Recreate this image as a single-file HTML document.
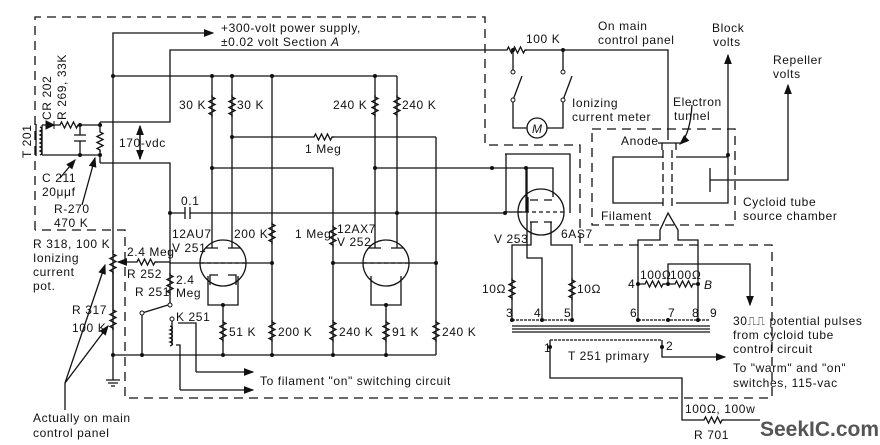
<!DOCTYPE html>
<html><head><style>
html,body{margin:0;padding:0;background:#fff;width:880px;height:445px;overflow:hidden}
svg{display:block}
text{font-family:"Liberation Sans",sans-serif;font-size:12px;letter-spacing:0.6px;fill:#111}
</style></head><body>
<svg width="880" height="445" viewBox="0 0 880 445" xmlns="http://www.w3.org/2000/svg">
<defs>
<path id="rv" d="M0,-10 l0,2 l3,1.5 l-6,3 l6,3 l-6,3 l6,3 l-6,3 l3,1.5 l0,2" fill="none" stroke="#111" stroke-width="1.3"/>
<path id="rh" d="M-10,0 l2,0 l1.5,-3 l3,6 l3,-6 l3,6 l3,-6 l3,6 l1.5,-3 l2,0" fill="none" stroke="#111" stroke-width="1.3"/>
<marker id="ar" markerWidth="8" markerHeight="6" refX="7" refY="3" orient="auto"><path d="M0,0 L8,3 L0,6z" fill="#111"/></marker>
</defs>
<g fill="none" stroke="#111" stroke-width="1.3">
<path d="M35,230 V17 H485 V145 H580 V245 H772 V398 H125 V230 H35" stroke-dasharray="9,6"/>
<path d="M592,129 H735 V225 H592 Z" stroke-dasharray="9,6"/>
<path d="M113,355 V33 H213" marker-end="url(#ar)"/>
<path d="M100,122 H170 V50 H505 M525,50 H668 V140"/>
<path d="M100,163 H170 V305"/>
<path d="M113,76 H397"/>
<path d="M42,125 H58 M78,125 H100 M42,155 H100 M42,125 V155"/>
<path d="M40,127 q4,2 0,4 q4,2 0,4 q4,2 0,4 q4,2 0,4 q4,2 0,4 q4,2 0,4 q4,2 0,4"/>
<path d="M36,124 V156"/>
<path d="M80,125 V135 M74,135 H86 M74,141 H86 M80,141 V155"/>
<path d="M100,122 V130 M100,150 V163"/>
<path d="M140,126 V159" marker-end="url(#ar)"/><path d="M140,159 V126" marker-end="url(#ar)"/>
<path d="M60,178 L75,160" marker-end="url(#ar)"/><path d="M82,205 L95,158" marker-end="url(#ar)"/>
<path d="M113,250 V252 M113,272 V308 M113,328 V330"/>
<path d="M135,262 H118" marker-end="url(#ar)"/><path d="M155,262 H170"/>
<path d="M170,263 H272 M113,380 V355 M106,380 H120 M108,383 H118 M111,386 H115"/>
<path d="M65,383 L105,265" marker-end="url(#ar)"/><path d="M65,383 L108,326" marker-end="url(#ar)"/>
<path d="M65,383 V410"/>
<path d="M113,355 H436"/>
<path d="M142,313 L168,305 M142,313 V355"/>
<path d="M172,321 V345 M178,323 H196 V372 M176,345 H180 V390" />
<path d="M196,372 H253" marker-end="url(#ar)"/><path d="M180,390 H253" marker-end="url(#ar)"/>
<path d="M170,326 q5,2 0,4 q5,2 0,4 q5,2 0,4 q5,2 0,4 q5,2 0,4"/>
<path d="M170,213 H185 M185,207 V219 M190,207 V219 M190,213 H506"/>
<circle cx="223" cy="263" r="23"/>
<path d="M212,76 V248 M232,76 V248 M206,248 H218 M228,248 H240"/>
<path d="M232,137 H312 M332,137 H436 M212,168 H333 V355"/>
<path d="M200,263 H246" stroke-dasharray="4,3"/>
<path d="M210,285 V275 H218 M228,275 H236 V285 M208,276 V305 H238 V276 M223,305 V355"/>
<path d="M272,76 V355"/>
<circle cx="386" cy="263" r="23"/>
<path d="M375,76 V248 M397,76 V248 M369,248 H381 M391,248 H403"/>
<path d="M375,168 H527 M333,263 H436"/>
<path d="M363,263 H409" stroke-dasharray="4,3"/>
<path d="M371,276 V305 H401 V276 M386,305 V355 M436,137 V355"/>
<path d="M513,50 V72 M563,50 V72 M513,100 V128 H527 M547,128 H563 V100"/>
<path d="M513,100 L522,76 M563,100 L572,76"/>
<circle cx="537" cy="128" r="10"/>
<circle cx="541" cy="212" r="23"/>
<path d="M505,154 H570 V213 M527,168 V258 H542 V320 M526,168 V212"/>
<path d="M506,154 V213 M526,168 H553 V197 M528,197 V212 M526,212 H506"/>
<path d="M530,200 H538 M544,200 H552"/>
<path d="M518,212 H564" stroke-dasharray="4,3"/>
<path d="M530,222 H538 M544,222 H552 M531,222 V245 H512 V320 M551,222 V245 H572 V320"/>
<path d="M663,157 H613 V203 H663 M676,157 H728 M676,203 H728 V157 M728,155 V55" marker-end="url(#ar)"/>
<path d="M663,150 V210 M672,150 V210" stroke-dasharray="8,4"/>
<path d="M658,143 H680 M662,143 V150 M676,143 V150"/>
<path d="M710,168 V192 M710,180 H788 V85" marker-end="url(#ar)"/>
<path d="M660,230 L668,213 L678,230 V240 H698 V320 M660,230 V240 H638 V320"/>
<path d="M692,105 Q690,135 680,144" marker-end="url(#ar)"/>
<path d="M638,284 H643 M663,284 H673 M693,284 H700 M668,284 V264 H750 V305" marker-end="url(#ar)"/>
<path d="M512,320 H572 M638,320 H710" stroke-dasharray="3,1"/>
<path d="M512,326 H710 M512,329 H710 M512,332 H710"/>
<path d="M550,340 H662" stroke-dasharray="3,1"/>
<path d="M550,340 V378 H682 V420 H702 M722,420 H760"/>
<path d="M662,340 V357 H725" marker-end="url(#ar)"/>
</g>
<g fill="#111">
<circle cx="113" cy="76" r="2"/><circle cx="212" cy="76" r="2"/><circle cx="232" cy="76" r="2"/><circle cx="272" cy="76" r="2"/><circle cx="375" cy="76" r="2"/>
<circle cx="80" cy="125" r="2"/><circle cx="80" cy="155" r="2"/><circle cx="100" cy="125" r="2"/><circle cx="100" cy="155" r="2"/>
<circle cx="232" cy="137" r="2"/><circle cx="212" cy="168" r="2"/><circle cx="375" cy="168" r="2"/><circle cx="170" cy="213" r="2"/><circle cx="397" cy="213" r="2"/>
<circle cx="272" cy="263" r="2"/><circle cx="333" cy="263" r="2"/><circle cx="436" cy="263" r="2"/>
<circle cx="113" cy="355" r="2"/><circle cx="142" cy="355" r="2"/><circle cx="223" cy="355" r="2"/><circle cx="272" cy="355" r="2"/><circle cx="333" cy="355" r="2"/><circle cx="386" cy="355" r="2"/><circle cx="223" cy="305" r="2"/><circle cx="386" cy="305" r="2"/>
<circle cx="513" cy="50" r="2"/><circle cx="563" cy="50" r="2"/><circle cx="492" cy="168" r="2"/><circle cx="526" cy="168" r="2"/><circle cx="505" cy="213" r="2"/>
<circle cx="728" cy="155" r="2"/><circle cx="638" cy="284" r="2"/><circle cx="668" cy="284" r="2"/><circle cx="698" cy="284" r="2"/>
<circle cx="512" cy="320" r="2"/><circle cx="542" cy="320" r="2"/><circle cx="572" cy="320" r="2"/><circle cx="638" cy="320" r="2"/><circle cx="668" cy="320" r="2"/><circle cx="698" cy="320" r="2"/>
<circle cx="550" cy="347" r="2"/><circle cx="662" cy="347" r="2"/>
</g>
<g fill="#fff" stroke="#111" stroke-width="1">
<circle cx="170" cy="305" r="2"/><circle cx="142" cy="313" r="2"/><circle cx="172" cy="319" r="2"/>
<circle cx="513" cy="72" r="2"/><circle cx="513" cy="100" r="2"/><circle cx="563" cy="72" r="2"/><circle cx="563" cy="100" r="2"/>
</g>
<use href="#rh" x="68" y="125"/><use href="#rv" x="100" y="140"/>
<use href="#rv" x="212" y="105"/><use href="#rv" x="232" y="105"/><use href="#rv" x="375" y="105"/><use href="#rv" x="397" y="105"/>
<use href="#rh" x="322" y="137"/><use href="#rv" x="272" y="232"/><use href="#rv" x="333" y="235"/>
<use href="#rv" x="113" y="262"/><use href="#rv" x="113" y="318"/><use href="#rh" x="145" y="262"/><use href="#rv" x="170" y="283"/>
<use href="#rv" x="223" y="330"/><use href="#rv" x="272" y="330"/><use href="#rv" x="333" y="330"/><use href="#rv" x="386" y="330"/><use href="#rv" x="436" y="330"/>
<use href="#rh" x="515" y="50"/><use href="#rv" x="512" y="288"/><use href="#rv" x="572" y="288"/>
<use href="#rh" x="653" y="284"/><use href="#rh" x="683" y="284"/><use href="#rh" x="712" y="420"/>
<path d="M46,121 L54,125 L46,129z M54,121 V129" fill="#111" stroke="#111"/>
<text x="221" y="32">+300-volt power supply,</text>
<text x="221" y="46">±0.02 volt   Section <tspan font-style="italic">A</tspan></text>
<text transform="translate(31,158) rotate(-90)">T 201</text>
<text transform="translate(51,120) rotate(-90)">CR 202</text>
<text transform="translate(66,120) rotate(-90)">R 269, 33K</text>
<text x="119" y="147">170-vdc</text>
<text x="42" y="182">C 211</text><text x="42" y="196">20μμf</text>
<text x="54" y="213">R-270</text><text x="54" y="227">470 K</text>
<text x="33" y="248">R 318, 100 K</text><text x="33" y="262">Ionizing</text><text x="33" y="276">current</text><text x="33" y="290">pot.</text>
<text x="127" y="256">2.4 Meg</text><text x="127" y="278">R 252</text>
<text x="176" y="284">2.4</text><text x="176" y="297">Meg</text><text x="135" y="296">R 251</text>
<text x="72" y="314">R 317</text><text x="72" y="332">100 K</text>
<text x="176" y="321">K 251</text>
<text x="33" y="422">Actually on main</text><text x="33" y="437">control panel</text>
<text x="260" y="385">To filament "on" switching circuit</text>
<text x="179" y="109">30 K</text><text x="237" y="109">30 K</text><text x="333" y="109">240 K</text><text x="402" y="109">240 K</text>
<text x="305" y="153">1 Meg</text><text x="181" y="205">0.1</text>
<text x="172" y="238">12AU7</text><text x="172" y="252">V 251</text><text x="234" y="238">200 K</text>
<text x="295" y="238">1 Meg</text><text x="337" y="233">12AX7</text><text x="337" y="246">V 252</text>
<text x="229" y="336">51 K</text><text x="278" y="336">200 K</text><text x="339" y="336">240 K</text><text x="392" y="336">91 K</text><text x="442" y="336">240 K</text>
<text x="526" y="43">100 K</text><text x="598" y="30">On main</text><text x="598" y="44">control panel</text>
<text x="572" y="107">Ionizing</text><text x="572" y="121">current meter</text>
<text x="532" y="133" font-style="italic" font-size="10">M</text>
<text x="712" y="32">Block</text><text x="713" y="46">volts</text>
<text x="773" y="64">Repeller</text><text x="773" y="78">volts</text>
<text x="673" y="106">Electron</text><text x="674" y="120">tunnel</text>
<text x="621" y="145">Anode</text><text x="601" y="220">Filament</text>
<text x="743" y="206">Cycloid tube</text><text x="743" y="220">source chamber</text>
<text x="494" y="243">V 253</text><text x="561" y="238">6AS7</text>
<text x="482" y="293">10Ω</text><text x="577" y="293">10Ω</text>
<text x="506" y="317" font-size="10">3</text><text x="534" y="317" font-size="10">4</text><text x="564" y="317" font-size="10">5</text>
<text x="630" y="317" font-size="10">6</text><text x="668" y="317" font-size="10">7</text><text x="692" y="317" font-size="10">8</text><text x="710" y="317" font-size="10">9</text>
<text x="640" y="279" font-size="10">100Ω</text><text x="670" y="279" font-size="10">100Ω</text>
<text x="628" y="288" font-size="10">4</text><text x="704" y="289" font-style="italic">B</text>
<text x="544" y="352" font-size="10">1</text><text x="666" y="350" font-size="10">2</text>
<text x="568" y="360">T 251 primary</text>
<text x="733" y="325">30⎍⎍ potential pulses</text><text x="733" y="339">from cycloid tube</text><text x="733" y="353">control circuit</text>
<text x="733" y="372">To "warm" and "on"</text><text x="733" y="387">switches, 115-vac</text>
<text x="685" y="413">100Ω, 100w</text><text x="694" y="439">R 701</text>
<text x="760" y="436" style="font-size:21px;font-weight:bold;fill:#555;letter-spacing:0">SeekIC.com</text>
</svg>
</body></html>
